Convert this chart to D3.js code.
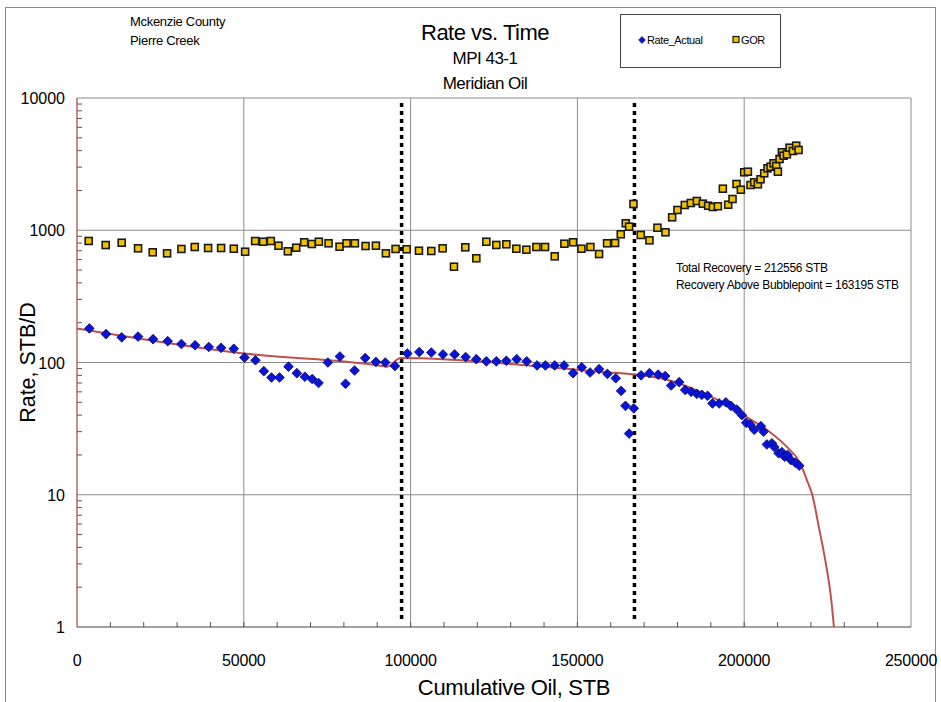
<!DOCTYPE html>
<html>
<head>
<meta charset="utf-8">
<script src="https://cdn.jsdelivr.net/npm/d3@7"></script>
<style>
	body { margin: 0; background: #fff; }
	text { font-family: "Liberation Sans", Arial, sans-serif; fill: #000; }
</style>
</head>
<body>
<div id="chart"></div>
<script>
'use strict';

// GOR, scf/STB vs cumulative oil
const gor_cum = [3500, 8600, 13400, 18300, 22700, 27000, 31300, 35300, 39300, 43200, 47000,
	50400, 53400, 55800, 58100, 60400, 63200, 65700, 68100, 70400, 72500, 75400, 78700, 80800,
	83300, 86500, 89600, 92600, 95500, 98800, 102500, 106200, 109600, 113000, 116400, 119700,
	122700, 125700, 128700, 131700, 134700, 137700, 140300, 143200, 146100, 148700, 151200,
	153900, 156500, 158900, 161300, 163000, 164500, 165500, 166800, 169000, 171600, 174000,
	176400, 178400, 180000, 182200, 184000, 185800, 187600, 189200, 190600, 192100, 193600,
	195200, 196500, 197700, 199000, 200000, 201100, 201900, 203000, 204100, 204900, 206000,
	207000, 207900, 208800, 209600, 210100, 210600, 211300, 211800, 212800, 213600, 214600,
	215600, 216300];
const gor_val = [830, 773, 805, 730, 681, 669, 722, 747, 734, 734, 725,
	688, 829, 819, 829, 764, 693, 738, 811, 787, 819, 797, 751, 797,
	797, 760, 764, 669, 722, 718, 700, 697, 730, 530, 743, 614,
	819, 774, 783, 725, 713, 747, 747, 635, 791, 811, 725,
	747, 661, 797, 801, 932, 1129, 1064, 1579, 921, 839, 1045,
	965, 1253, 1423, 1552, 1607, 1664, 1588, 1533, 1499, 1518, 2062,
	1561, 1723, 2237, 2026, 2743, 2772, 2199, 2305, 2226, 2428, 2696,
	2940, 3023, 3208, 3060, 2772, 3458, 3886, 3662, 3753, 4209, 3974,
	4358, 4045];

// Rate_Actual, STB/D vs cumulative oil
const rate_cum = [3700, 8700, 13400, 18300, 22800, 27200, 31300, 35400, 39500, 43200, 47000,
	50200, 53500, 56000, 58300, 60700, 63400, 65900, 68300, 70500, 72400, 75200, 78800, 80500,
	83200, 86400, 89600, 92400, 95300, 99000, 102600, 106200, 109700, 113200, 116500, 119700,
	122700, 125700, 128700, 131800, 134800, 137900, 140400, 143200, 146000, 148700, 151300,
	153800, 156500, 159000, 161500, 163100, 164400, 165500, 166900, 169100, 171600, 174200,
	176300, 178100, 180500, 182300, 184100, 185800, 187300, 189000, 190500, 192500, 194500,
	196000, 197800, 199300, 200600, 201800, 203000, 205000, 205800, 206800, 208300, 209000,
	210300, 211300, 212100, 213000, 214000, 215300, 216500];
const rate_val = [181, 164, 155, 157, 150, 145, 138, 135, 131, 129, 127,
	109, 104, 86, 77, 77, 93, 83, 78, 75, 70, 100, 111, 69,
	87, 108, 101, 100, 94, 117, 120, 119, 115, 115, 110, 106,
	102, 102, 103, 106, 102, 95, 95, 95, 95, 83, 92,
	84, 89, 82, 76, 61, 47, 29, 45, 80, 83, 81,
	79, 67, 71, 62, 60, 58, 57, 56, 49, 49, 50,
	47, 44, 40, 35, 34, 31, 33, 30, 24, 24.5, 23,
	20.6, 21, 19.4, 20, 18.3, 17.5, 16.6];

// decline fit
const fit_cum = [0, 50100, 91000, 93000, 97000, 149900, 156900, 167900, 176900, 186800, 194800,
	199800, 206800, 212800, 216800, 218800, 220400, 222500, 224300, 226100, 226900];
const fit_val = [181, 117, 94.6, 93, 108, 88, 85, 81, 74, 60, 48,
	40, 31, 23, 17.3, 12.9, 10, 5.5, 3.2, 1.6, 1];

const bubble_lines = [97300, 167100];
const x_ticks = [0, 50000, 100000, 150000, 200000, 250000];
const y_ticks = [1, 10, 100, 1000, 10000];

const header_left = ["Mckenzie County", "Pierre Creek"];
const titles = ["Rate vs. Time", "MPI 43-1", "Meridian Oil"];
const notes = ["Total Recovery = 212556 STB", "Recovery Above Bubblepoint = 163195 STB"];

const W = 941, H = 702;
const margin = { top: 98, right: 30, bottom: 75, left: 77 };

const svg = d3.select("#chart").append("svg")
	.attr("width", W)
	.attr("height", H);

// outer frame
svg.append("rect")
	.attr("x", 5.5).attr("y", 7.5)
	.attr("width", 930).attr("height", 710)
	.attr("fill", "none")
	.attr("stroke", "#8a8a8a")
	.attr("stroke-width", 1);

const x = d3.scaleLinear()
	.domain([0, 250000])
	.range([margin.left, W - margin.right]);

const y = d3.scaleLog()
	.domain([1, 10000])
	.range([H - margin.bottom, margin.top]);

const plot = svg.append("g");

// grid
plot.append("g").attr("class", "grid")
	.selectAll("line.v")
	.data(x_ticks.slice(1))
	.join("line")
		.attr("x1", d => x(d)).attr("x2", d => x(d))
		.attr("y1", y(1)).attr("y2", y(10000))
		.attr("stroke", "#8c8c8c");

plot.append("g").attr("class", "grid")
	.selectAll("line.h")
	.data(y_ticks.slice(1))
	.join("line")
		.attr("x1", x(0)).attr("x2", x(250000))
		.attr("y1", d => y(d)).attr("y2", d => y(d))
		.attr("stroke", "#8c8c8c");

// minor ticks on y (log)
const y_minor = [];
for (let dec = 1; dec < 10000; dec *= 10)
	for (let k = 2; k <= 9; k++) y_minor.push(dec * k);

plot.append("g")
	.selectAll("line")
	.data(y_minor)
	.join("line")
		.attr("x1", x(0)).attr("x2", x(0) + 5)
		.attr("y1", d => y(d)).attr("y2", d => y(d))
		.attr("stroke", "#555");

// minor ticks on x
plot.append("g")
	.selectAll("line")
	.data(d3.range(10000, 250000, 10000))
	.join("line")
		.attr("x1", d => x(d)).attr("x2", d => x(d))
		.attr("y1", y(1)).attr("y2", y(1) - 5)
		.attr("stroke", "#555");

// axis lines
plot.append("line")
	.attr("x1", x(0)).attr("x2", x(250000))
	.attr("y1", y(1)).attr("y2", y(1))
	.attr("stroke", "#444").attr("stroke-width", 1.2);
plot.append("line")
	.attr("x1", x(0)).attr("x2", x(0))
	.attr("y1", y(1)).attr("y2", y(10000))
	.attr("stroke", "#a84040").attr("stroke-width", 1.2);

// tick labels
svg.append("g")
	.selectAll("text")
	.data(x_ticks)
	.join("text")
		.attr("x", d => x(d))
		.attr("y", y(1) + 39)
		.attr("text-anchor", "middle")
		.attr("font-size", 16)
		.attr("letter-spacing", -0.2)
		.text(d => d);

svg.append("g")
	.selectAll("text")
	.data(y_ticks)
	.join("text")
		.attr("x", x(0) - 12)
		.attr("y", d => y(d) + 6)
		.attr("text-anchor", "end")
		.attr("font-size", 16)
		.text(d => d);

// axis titles
svg.append("text")
	.attr("x", (x(0) + x(250000)) / 2 + 20)
	.attr("y", 695)
	.attr("text-anchor", "middle")
	.attr("font-size", 22)
	.attr("letter-spacing", -0.3)
	.text("Cumulative Oil, STB");

svg.append("text")
	.attr("transform", `translate(35,${(y(1) + y(10000)) / 2}) rotate(-90)`)
	.attr("text-anchor", "middle")
	.attr("font-size", 21.5)
	.text("Rate, STB/D");

// bubble point dotted lines
plot.append("g")
	.selectAll("line")
	.data(bubble_lines)
	.join("line")
		.attr("x1", d => x(d)).attr("x2", d => x(d))
		.attr("y1", y(10000) + 5).attr("y2", y(1) - 5)
		.attr("stroke", "#000")
		.attr("stroke-width", 3.5)
		.attr("stroke-dasharray", "4,4");

// GOR squares
const gor = d3.zip(gor_cum, gor_val);
plot.append("g")
	.selectAll("rect")
	.data(gor)
	.join("rect")
		.attr("x", d => x(d[0]) - 3.5)
		.attr("y", d => y(d[1]) - 3.5)
		.attr("width", 7).attr("height", 7)
		.attr("fill", "#f2c200")
		.attr("stroke", "#1a1a1a")
		.attr("stroke-width", 1.6);

// fit curve
const fit = d3.zip(fit_cum, fit_val);
plot.append("path")
	.datum(fit)
	.attr("fill", "none")
	.attr("stroke", "#c0504d")
	.attr("stroke-width", 2)
	.attr("d", d3.line()
		.x(d => x(d[0]))
		.y(d => y(d[1]))
		.curve(d3.curveMonotoneX));

// Rate diamonds
const rate = d3.zip(rate_cum, rate_val);
const diamond = d3.symbol().type(d3.symbolDiamond2).size(60);
plot.append("g")
	.selectAll("path")
	.data(rate)
	.join("path")
		.attr("transform", d => `translate(${x(d[0])},${y(d[1])})`)
		.attr("d", diamond)
		.attr("fill", "#0a14d8")
		.attr("stroke", "#0a0a60")
		.attr("stroke-width", 0.8);

// header texts
svg.append("g")
	.selectAll("text")
	.data(header_left)
	.join("text")
		.attr("x", 130)
		.attr("y", (d, i) => 26 + i * 19)
		.attr("font-size", 13)
		.attr("letter-spacing", -0.3)
		.text(d => d);

svg.append("g")
	.selectAll("text")
	.data(titles)
	.join("text")
		.attr("x", 485)
		.attr("y", (d, i) => [40, 64, 89][i])
		.attr("text-anchor", "middle")
		.attr("font-size", (d, i) => i == 0 ? 22 : 17)
		.attr("letter-spacing", -0.5)
		.text(d => d);

// legend
const lg = svg.append("g");
lg.append("rect")
	.attr("x", 620.5).attr("y", 14.5)
	.attr("width", 160).attr("height", 53)
	.attr("fill", "#fff")
	.attr("stroke", "#444");
lg.append("path")
	.attr("transform", "translate(642,40)")
	.attr("d", d3.symbol().type(d3.symbolDiamond2).size(30))
	.attr("fill", "#0a14d8")
	.attr("stroke", "#0a0a60")
	.attr("stroke-width", 0.6);
lg.append("text")
	.attr("x", 647).attr("y", 44)
	.attr("font-size", 11)
	.attr("letter-spacing", -0.4)
	.text("Rate_Actual");
lg.append("rect")
	.attr("x", 733).attr("y", 36.5)
	.attr("width", 6).attr("height", 6)
	.attr("fill", "#f2c200")
	.attr("stroke", "#1a1a1a")
	.attr("stroke-width", 1.2);
lg.append("text")
	.attr("x", 741).attr("y", 44)
	.attr("font-size", 11)
	.attr("letter-spacing", -0.4)
	.text("GOR");

// recovery notes
svg.append("g")
	.selectAll("text")
	.data(notes)
	.join("text")
		.attr("x", 676)
		.attr("y", (d, i) => 272 + i * 16.5)
		.attr("font-size", 12)
		.attr("letter-spacing", -0.3)
		.text(d => d);
</script>
</body>
</html>
